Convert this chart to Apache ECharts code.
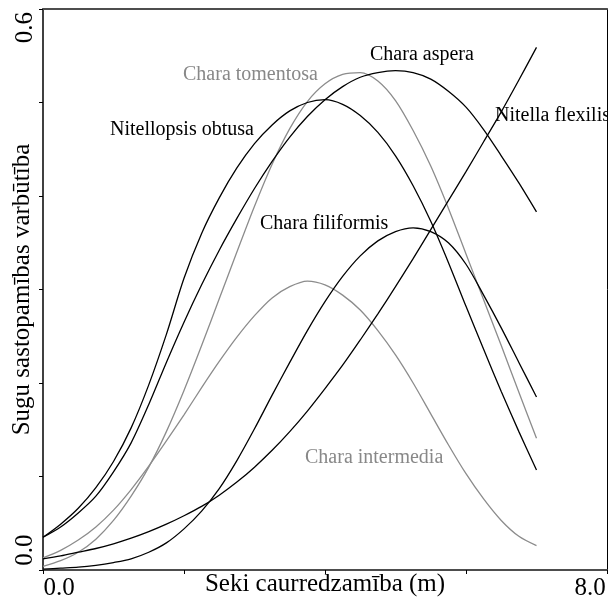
<!DOCTYPE html>
<html>
<head>
<meta charset="utf-8">
<script src="https://cdn.jsdelivr.net/npm/echarts@6/dist/echarts.min.js"></script>
<style>
  html, body { margin: 0; padding: 0; background: #fff; }
  #chart { width: 608px; height: 607px; }
</style>
</head>
<body>
<div id="chart"></div>
<script>
// Transparency (Secchi depth, m) at which each response curve is sampled
const depth = [0, 0.25, 0.5, 0.75, 1, 1.25, 1.5, 1.75, 2, 2.25, 2.5, 2.75, 3, 3.25, 3.5,
               3.75, 4, 4.25, 4.5, 4.75, 5, 5.25, 5.5, 5.75, 6, 6.25, 6.5, 6.75, 7];

// Occurrence probability of each species along the depth gradient
const nitellopsisObtusa = [0.035, 0.049, 0.066, 0.088, 0.116, 0.152, 0.198, 0.252, 0.312, 0.360, 0.398, 0.430, 0.456, 0.476, 0.491,
                           0.500, 0.503, 0.498, 0.486, 0.468, 0.443, 0.411, 0.373, 0.329, 0.282, 0.236, 0.191, 0.148, 0.107];
const charaAspera       = [0.035, 0.046, 0.061, 0.079, 0.105, 0.136, 0.177, 0.222, 0.265, 0.305, 0.342, 0.376, 0.408, 0.437, 0.463,
                           0.485, 0.503, 0.517, 0.527, 0.532, 0.534, 0.532, 0.525, 0.512, 0.495, 0.471, 0.443, 0.414, 0.383];
const charaTomentosa    = [0.004, 0.010, 0.019, 0.033, 0.053, 0.079, 0.110, 0.148, 0.192, 0.240, 0.290, 0.340, 0.389, 0.434, 0.472,
                           0.501, 0.520, 0.530, 0.532, 0.523, 0.502, 0.470, 0.432, 0.387, 0.338, 0.289, 0.240, 0.190, 0.141];
const charaIntermedia   = [0.013, 0.021, 0.032, 0.046, 0.064, 0.086, 0.111, 0.138, 0.166, 0.195, 0.223, 0.249, 0.272, 0.291, 0.303,
                           0.309, 0.305, 0.294, 0.278, 0.256, 0.230, 0.200, 0.167, 0.134, 0.103, 0.076, 0.053, 0.036, 0.026];
const nitellaFlexilis   = [0.012, 0.015, 0.019, 0.023, 0.028, 0.034, 0.041, 0.049, 0.058, 0.068, 0.080, 0.094, 0.110, 0.128, 0.148,
                           0.170, 0.194, 0.219, 0.246, 0.274, 0.303, 0.333, 0.364, 0.395, 0.426, 0.458, 0.490, 0.524, 0.559];
const charaFiliformis   = [0.001, 0.002, 0.003, 0.005, 0.008, 0.012, 0.019, 0.029, 0.044, 0.063, 0.087, 0.117, 0.151, 0.187, 0.222,
                           0.256, 0.287, 0.314, 0.336, 0.352, 0.362, 0.366, 0.362, 0.350, 0.327, 0.294, 0.259, 0.222, 0.185];

// The only tick labels shown, and the axis titles
const xTickLabels = ['0.0', '8.0'];
const yTickLabels = ['0.0', '0.6'];
const xTitle = 'Seki caurredzamība (m)';
const yTitle = 'Sugu sastopamības varbūtība';

const FONT = '"Liberation Serif", "DejaVu Serif", serif';
const BLACK = '#000000';
const GREY = '#8c8c8c';
const GREY_TEXT = '#888888';

const seriesDefs = [
  { name: 'Nitellopsis obtusa', data: nitellopsisObtusa, color: BLACK },
  { name: 'Chara aspera',       data: charaAspera,       color: BLACK },
  { name: 'Chara tomentosa',    data: charaTomentosa,    color: GREY },
  { name: 'Chara intermedia',   data: charaIntermedia,   color: GREY },
  { name: 'Nitella flexilis',   data: nitellaFlexilis,   color: BLACK },
  { name: 'Chara filiformis',   data: charaFiliformis,   color: BLACK }
];

// Species names written next to their curves (pixel placement)
const curveLabels = [
  { text: 'Chara tomentosa',    x: 183, y: 75,  color: GREY_TEXT },
  { text: 'Chara aspera',       x: 370, y: 55,  color: BLACK },
  { text: 'Nitellopsis obtusa', x: 110, y: 130, color: BLACK },
  { text: 'Nitella flexilis',   x: 495, y: 116, color: BLACK },
  { text: 'Chara filiformis',   x: 260, y: 224, color: BLACK },
  { text: 'Chara intermedia',   x: 305, y: 458, color: GREY_TEXT }
];

const chart = echarts.init(document.getElementById('chart'), null, { renderer: 'canvas' });

const near = (a, b) => Math.abs(a - b) < 1e-6;

chart.setOption({
  animation: false,
  backgroundColor: '#ffffff',
  grid: { left: 43, right: 1, top: 9, bottom: 37, containLabel: false, outerBoundsMode: 'none' },
  xAxis: [
    {
      type: 'value', min: 0, max: 8, interval: 2,
      name: xTitle, nameLocation: 'middle', nameGap: 2, nameMoveOverlap: false,
      nameTextStyle: { fontFamily: FONT, fontSize: 25, color: BLACK },
      axisLine: { show: true, onZero: false, lineStyle: { color: '#4d4d4d', width: 2 } },
      axisTick: { show: true, length: 4, lineStyle: { color: BLACK, width: 1 } },
      splitLine: { show: false },
      axisLabel: {
        fontFamily: FONT, fontSize: 25, color: BLACK, margin: 6,
        formatter: v => near(v, 0) ? '{l|' + xTickLabels[0] + '}' : near(v, 8) ? '{r|' + xTickLabels[1] + '}' : '',
        rich: {
          l: { fontFamily: FONT, fontSize: 25, color: BLACK, padding: [0, 0, 0, 32] },
          r: { fontFamily: FONT, fontSize: 25, color: BLACK, padding: [0, 34, 0, 0] }
        }
      }
    },
    {
      type: 'value', min: 0, max: 8, position: 'top',
      axisLine: { show: true, onZero: false, lineStyle: { color: '#4d4d4d', width: 2 } },
      axisTick: { show: false }, axisLabel: { show: false }, splitLine: { show: false }
    }
  ],
  yAxis: [
    {
      type: 'value', min: 0, max: 0.6, interval: 0.1,
      name: yTitle, nameLocation: 'middle', nameGap: 8, nameRotate: 90, nameMoveOverlap: false,
      nameTextStyle: { fontFamily: FONT, fontSize: 25, color: BLACK },
      axisLine: { show: true, onZero: false, lineStyle: { color: BLACK, width: 1.5 } },
      axisTick: { show: true, length: 4, lineStyle: { color: BLACK, width: 1 } },
      splitLine: { show: false },
      axisLabel: {
        rotate: 90, margin: 5,
        fontFamily: FONT, fontSize: 25, color: BLACK,
        formatter: v => near(v, 0) ? '{lo|' + yTickLabels[0] + '}' : near(v, 0.6) ? '{hi|' + yTickLabels[1] + '}' : '',
        rich: {
          lo: { fontFamily: FONT, fontSize: 25, color: BLACK, padding: [0, 0, 0, 40] },
          hi: { fontFamily: FONT, fontSize: 25, color: BLACK, padding: [0, 37, 0, 0] }
        }
      }
    },
    {
      type: 'value', min: 0, max: 0.6, position: 'right',
      axisLine: { show: true, onZero: false, lineStyle: { color: BLACK, width: 1 } },
      axisTick: { show: false }, axisLabel: { show: false }, splitLine: { show: false }
    }
  ],
  series: seriesDefs.map(s => ({
    name: s.name,
    type: 'line',
    xAxisIndex: 0,
    yAxisIndex: 0,
    smooth: 0.3,
    showSymbol: false,
    symbol: 'none',
    data: depth.map((d, i) => [d, s.data[i]]),
    lineStyle: { color: s.color, width: 1.3 },
    itemStyle: { color: s.color },
    z: s.color === GREY ? 2 : 3
  })),
  graphic: curveLabels.map(l => ({
    type: 'text',
    left: l.x,
    top: l.y - 10,
    z: 10,
    style: {
      text: l.text,
      fill: l.color,
      font: '20px ' + FONT
    }
  }))
});
</script>
</body>
</html>
